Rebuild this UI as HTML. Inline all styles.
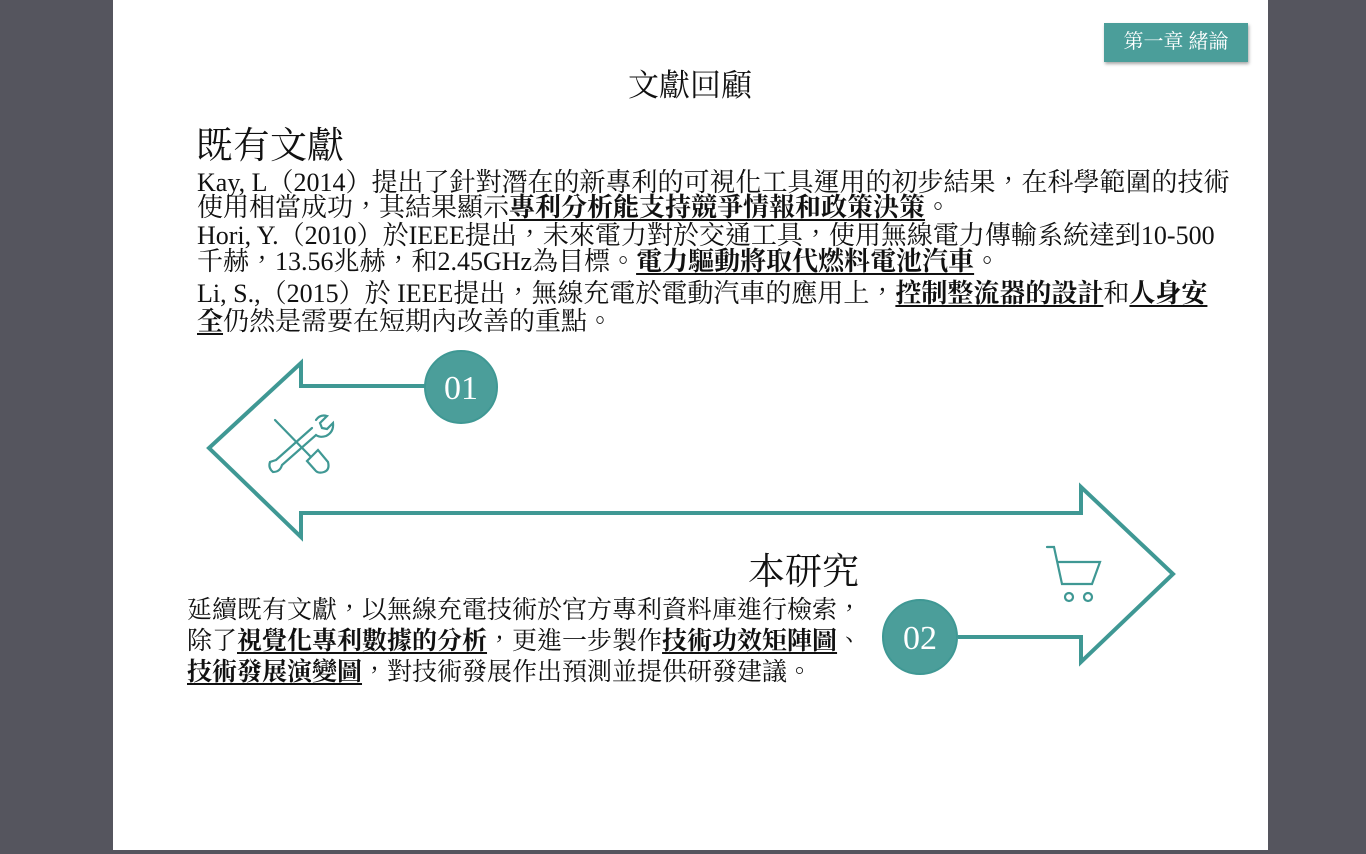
<!DOCTYPE html>
<html><head><meta charset="utf-8"><style>
html,body{margin:0;padding:0;}
body{width:1366px;height:854px;background:#55555e;position:relative;overflow:hidden;font-family:"Liberation Serif","Noto Serif CJK TC","Noto Serif CJK SC",serif;color:#111;}
.page{position:absolute;left:113px;top:0;width:1155px;height:850px;background:#fff;}
.t{position:absolute;white-space:nowrap;font-size:25px;line-height:28px;}
.u26{font-size:26px;}
u{text-decoration:underline;text-decoration-thickness:2px;text-underline-offset:3px;font-weight:bold;}
.badge{position:absolute;left:1104px;top:23px;width:144px;height:39px;background:#4b9e9a;color:#fff;font-size:20px;line-height:39px;text-align:center;box-shadow:1px 2px 3px rgba(0,0,0,.35);}
</style></head><body>
<div class="page"></div>
<div class="badge">第一章 緒論</div>
<div class="t" style="left:0;width:1380px;text-align:center;top:68px;font-size:31px;line-height:36px;">文獻回顧</div>
<div class="t" style="left:196px;top:126px;font-size:37px;line-height:42px;">既有文獻</div>
<div class="t u26" style="left:197px;top:169px;">Kay, L（2014）提出了針對潛在的新專利的可視化工具運用的初步結果，在科學範圍的技術</div>
<div class="t u26" style="left:197px;top:194px;">使用相當成功，其結果顯示<u>專利分析能支持競爭情報和政策決策</u>。</div>
<div class="t u26" style="left:197px;top:222px;">Hori, Y.（2010）於IEEE提出，未來電力對於交通工具，使用無線電力傳輸系統達到10-500</div>
<div class="t u26" style="left:197px;top:248px;">千赫，13.56兆赫，和2.45GHz為目標。<u>電力驅動將取代燃料電池汽車</u>。</div>
<div class="t u26" style="left:197px;top:280px;">Li, S.,（2015）於 IEEE提出，無線充電於電動汽車的應用上，<u>控制整流器的設計</u>和<u>人身安</u></div>
<div class="t u26" style="left:197px;top:308px;"><u>全</u>仍然是需要在短期內改善的重點。</div>

<svg width="1366" height="854" style="position:absolute;left:0;top:0" fill="none" stroke="#3f9894" stroke-width="4" stroke-linejoin="miter">
<polyline points="425,386 301,386 301,363 209,448 301,537 301,513 1081,513 1081,487 1173,574 1081,662 1081,637 958,637"/>
<circle cx="461" cy="387" r="36" fill="#4b9e9a" stroke="#3f9894" stroke-width="2"/>
<circle cx="920" cy="637" r="37" fill="#4b9e9a" stroke="#3f9894" stroke-width="2"/>
<g stroke-width="2.2" stroke-linecap="round">
<line x1="275" y1="420" x2="310" y2="456"/>
<path d="M307 461 L318 450 L328 462 Q330 470 324 472 Q318 474 315 470 Z"/>
<path d="M276 460 L312 428 M316 420 Q320 414 327 416 L320 423 L322 428 L327 429 L333 423 Q334 432 326 436 Q320 438 316 435 L282 465 Q280 472 273 472 Q268 468 270 462 L276 460"/>
<path d="M1047 547 L1054 547 L1062 584 L1092 584 L1100 562 L1058 562"/>
<circle cx="1069" cy="597" r="4"/><circle cx="1088" cy="597" r="4"/>
</g>
<text x="461" y="399" fill="#fff" stroke="none" font-size="34" text-anchor="middle" font-family="Liberation Serif,serif">01</text>
<text x="920" y="649" fill="#fff" stroke="none" font-size="34" text-anchor="middle" font-family="Liberation Serif,serif">02</text>
</svg>

<div class="t" style="left:748px;top:552px;font-size:37px;line-height:42px;">本研究</div>
<div class="t" style="left:187px;top:597px;">延續既有文獻，以無線充電技術於官方專利資料庫進行檢索，</div>
<div class="t" style="left:187px;top:628px;">除了<u>視覺化專利數據的分析</u>，更進一步製作<u>技術功效矩陣圖</u>、</div>
<div class="t" style="left:187px;top:659px;"><u>技術發展演變圖</u>，對技術發展作出預測並提供研發建議。</div>
</body></html>
